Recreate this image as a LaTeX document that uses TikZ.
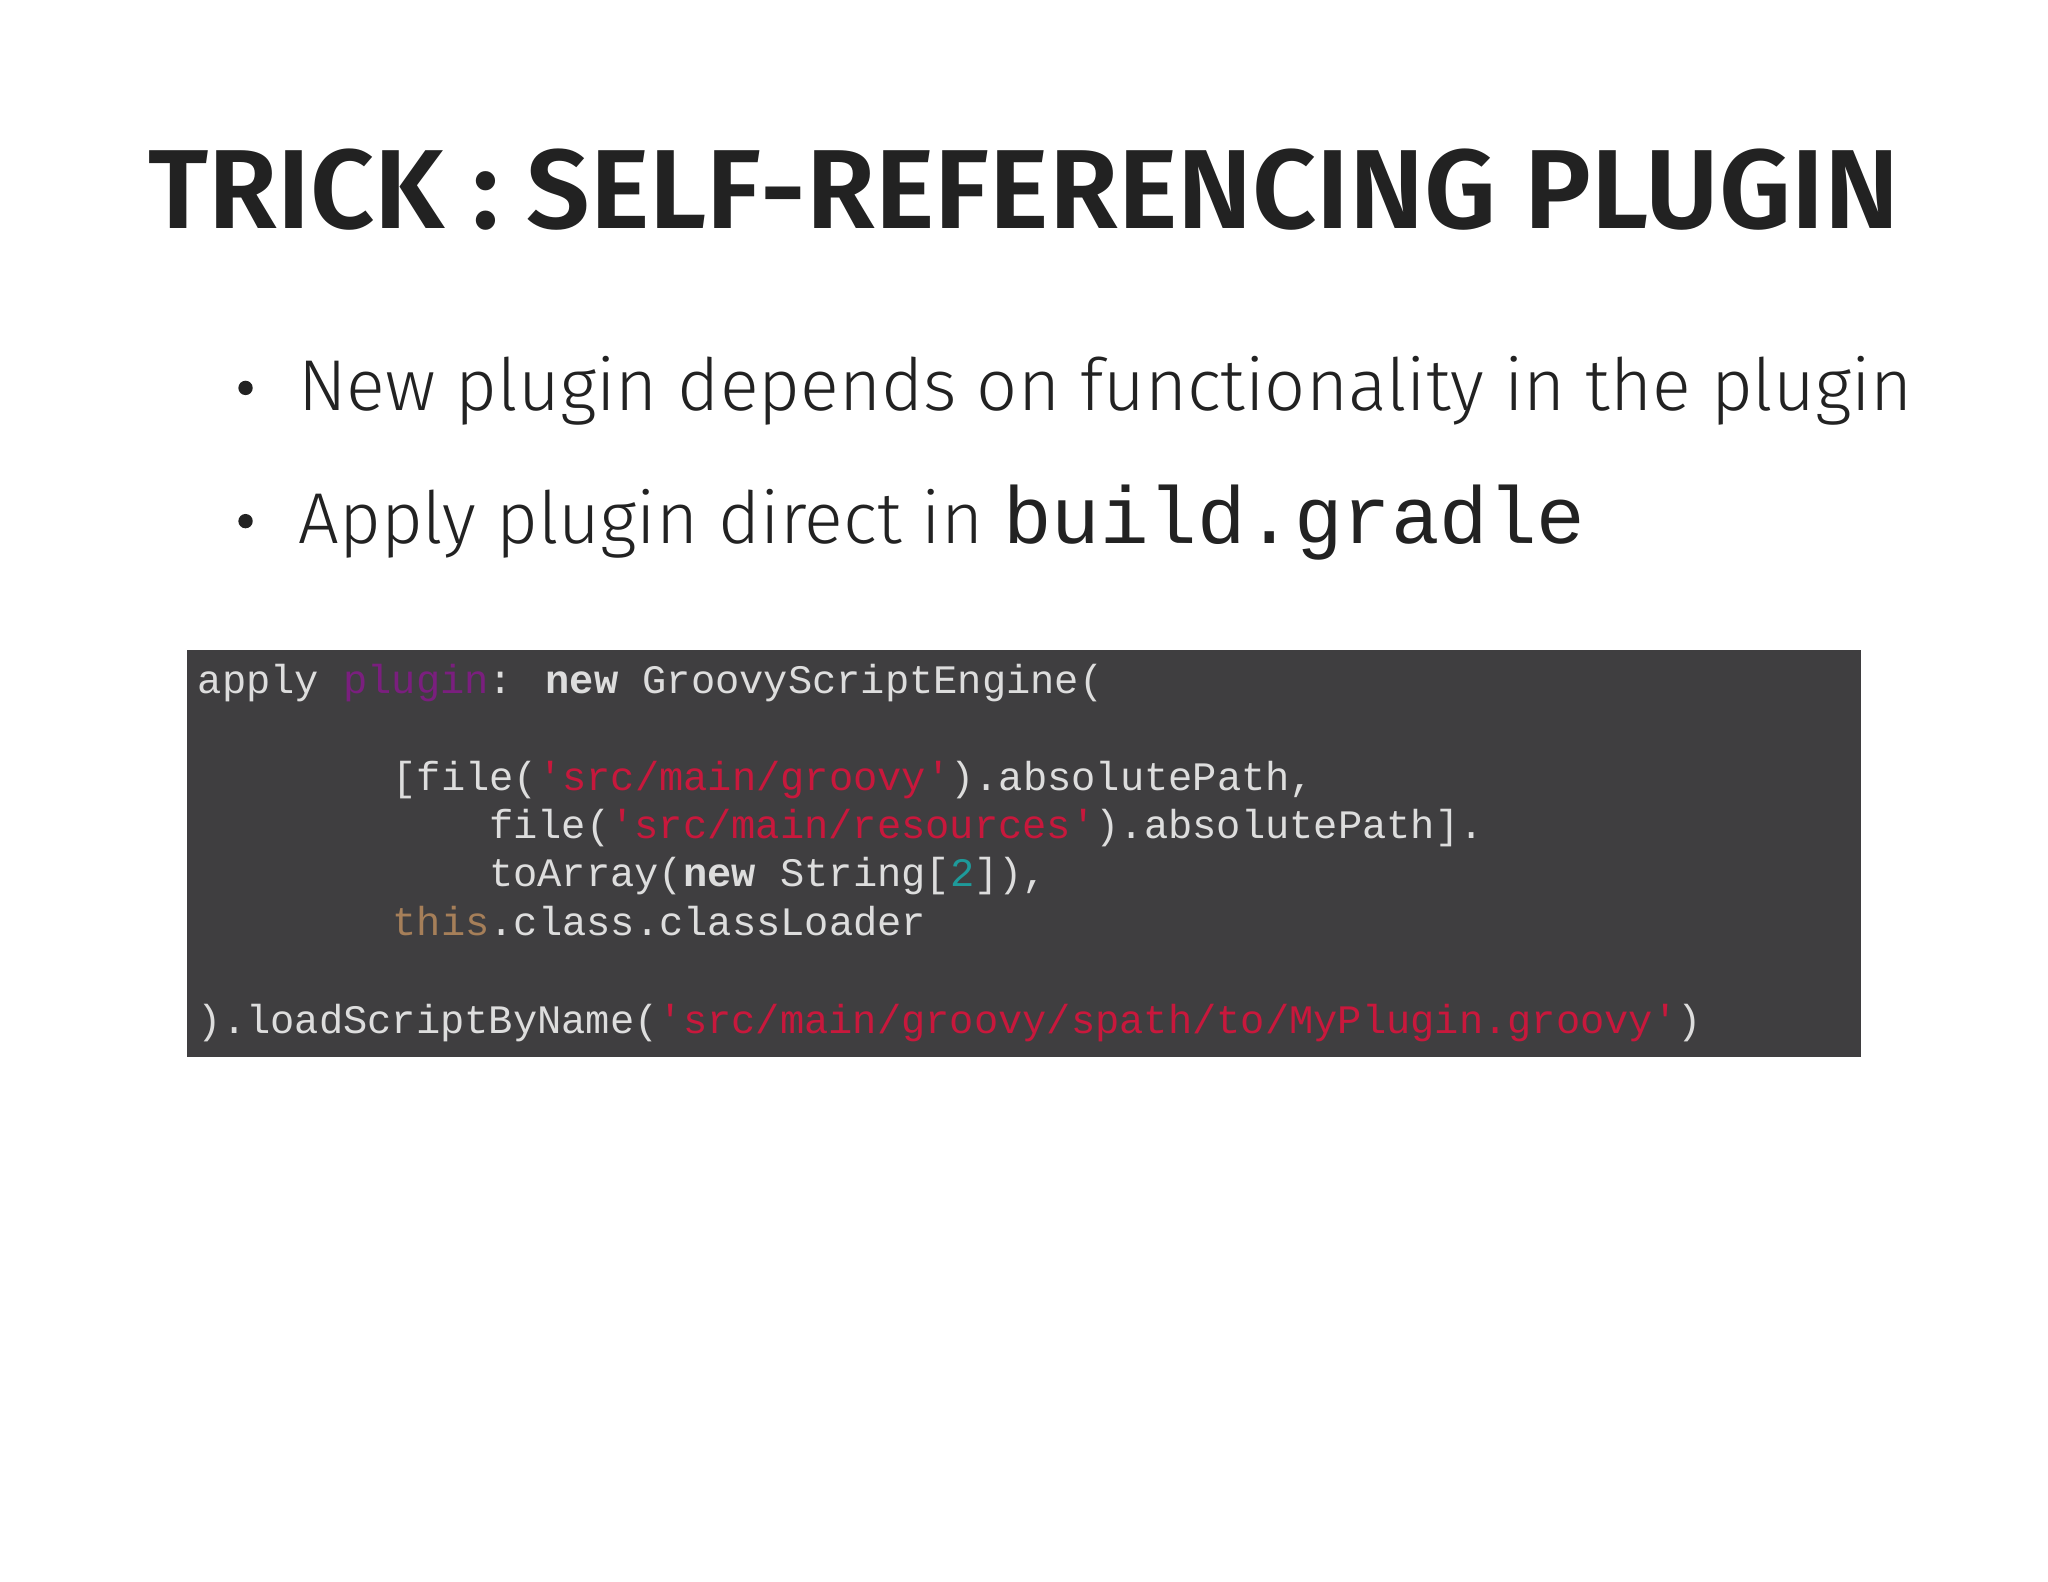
\documentclass[tikz,border=0pt]{standalone}
\usepackage{fontspec}
\setmainfont{Fira Sans}
\setmonofont{Liberation Mono}
\definecolor{codebg}{HTML}{3F3E40}
\definecolor{codefg}{HTML}{DDDDDD}
\definecolor{kwpurple}{HTML}{7A1F7E}
\definecolor{strred}{HTML}{C8183C}
\definecolor{numteal}{HTML}{1E9A9A}
\definecolor{thisbrown}{HTML}{A67F59}
\definecolor{titlecol}{HTML}{222222}
\begin{document}
\begin{tikzpicture}[x=0.01306cm,y=-0.01306cm,
  code/.style={anchor=base west,inner sep=0,text=codefg,font=\fontsize{11.5pt}{13pt}\ttfamily},
  bul/.style={anchor=base west,inner sep=0,text=titlecol,font=\fontsize{20.5pt}{24pt}\selectfont\fontspec{Fira Sans Light}}]
\useasboundingbox[fill=white] (0,0) rectangle (1568,1211);
\node[anchor=base,inner sep=0,text=titlecol,font=\fontsize{32pt}{36pt}\selectfont\fontspec{Fira Sans SemiBold}] (title) at (784,175) {TRICK : SELF-REFERENCING PLUGIN};
\fill[titlecol] (188,297) circle (5.5);
\fill[titlecol] (188,399) circle (5.5);
\node[bul] (b1) at (228,314) {New plugin depends on functionality in the plugin};
\node[bul] (b2) at (228,416) {Apply plugin direct in {\fontspec{Liberation Mono}\fontsize{23pt}{24pt}\selectfont build.gradle}};
\fill[codebg] (143,498) rectangle (1425,809);
\node[code] (l1) at (151,531) {apply \textcolor{kwpurple}{plugin}: \textbf{new} GroovyScriptEngine(};
\node[code] (l2) at (300,605) {[file(\textcolor{strred}{'src/main/groovy'}).absolutePath,};
\node[code] (l3) at (374,642) {file(\textcolor{strred}{'src/main/resources'}).absolutePath].};
\node[code] (l4) at (374,679) {toArray(\textbf{new} String[\textcolor{numteal}{2}]),};
\node[code] (l5) at (300,716) {\textcolor{thisbrown}{this}.class.classLoader};
\node[code] (l6) at (151,791) {).loadScriptByName(\textcolor{strred}{'src/main/groovy/spath/to/MyPlugin.groovy'})};
\end{tikzpicture}
\end{document}
